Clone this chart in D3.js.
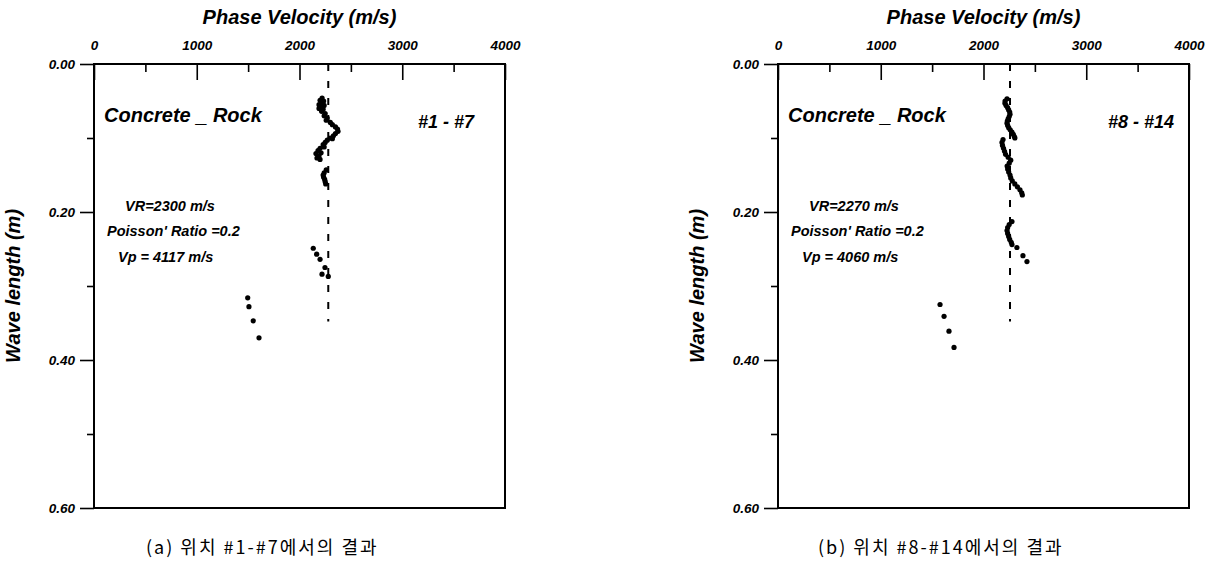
<!DOCTYPE html>
<html>
<head>
<meta charset="utf-8">
<script src="https://cdn.jsdelivr.net/npm/d3@7"></script>
<style>
  html, body { margin: 0; padding: 0; background: #fff; }
  svg text { font-family: "Liberation Sans", Arial, sans-serif; }
</style>
</head>
<body>
<svg id="chart" width="1215" height="567"></svg>
<script>
// axis ticks
const velTicks = [0, 1000, 2000, 3000, 4000];
const velMinor = [500, 1500, 2500, 3500];
const wlTicks = [0.00, 0.20, 0.40, 0.60];
const wlMinor = [0.10, 0.30, 0.50];

// panel (a) #1 - #7 : [phase velocity, wave length]
const aPoints = [
  [2220, 0.046], [2200, 0.049], [2235, 0.050], [2215, 0.052], [2190, 0.055],
  [2240, 0.056], [2210, 0.058], [2190, 0.060], [2230, 0.061], [2215, 0.064],
  [2250, 0.067], [2240, 0.070], [2270, 0.073], [2260, 0.076], [2300, 0.079],
  [2320, 0.082], [2350, 0.085], [2370, 0.088], [2375, 0.091], [2350, 0.094],
  [2330, 0.097], [2300, 0.100], [2320, 0.101], [2270, 0.103], [2250, 0.106],
  [2230, 0.109], [2240, 0.112], [2200, 0.114], [2180, 0.117], [2210, 0.120],
  [2160, 0.121], [2190, 0.124], [2170, 0.127], [2200, 0.129],
  [2260, 0.143], [2240, 0.147], [2230, 0.150], [2235, 0.153], [2245, 0.156],
  [2250, 0.159], [2255, 0.162],
  [2134, 0.249], [2167, 0.257], [2200, 0.264], [2248, 0.275], [2219, 0.284],
  [2280, 0.287],
  [1496, 0.316], [1508, 0.328], [1550, 0.347], [1606, 0.370]
];
const aVR = 2280;
const aDashEnd = 0.348;

// panel (b) #8 - #14
const bPoints = [
  [2229, 0.047], [2210, 0.050], [2209, 0.053], [2220, 0.056], [2235, 0.059],
  [2245, 0.062], [2255, 0.065], [2258, 0.068], [2250, 0.071], [2240, 0.074],
  [2232, 0.077], [2229, 0.080], [2235, 0.083], [2245, 0.086], [2260, 0.089],
  [2277, 0.092], [2290, 0.095], [2300, 0.098], [2306, 0.100],
  [2190, 0.102], [2180, 0.106], [2185, 0.110], [2195, 0.114], [2205, 0.118],
  [2215, 0.122], [2240, 0.126], [2265, 0.130], [2250, 0.134], [2230, 0.138],
  [2235, 0.142], [2245, 0.146], [2258, 0.150], [2265, 0.154], [2280, 0.158],
  [2305, 0.162], [2330, 0.166], [2355, 0.170], [2372, 0.174], [2378, 0.177],
  [2277, 0.213], [2250, 0.217], [2235, 0.221], [2229, 0.225], [2235, 0.229],
  [2245, 0.233], [2255, 0.237], [2270, 0.241], [2277, 0.244],
  [2325, 0.248], [2384, 0.259], [2423, 0.267],
  [1577, 0.325], [1616, 0.341], [1664, 0.361], [1713, 0.383]
];
const bVR = 2258;
const bDashEnd = 0.348;

const panels = [
  {left: 94, points: aPoints, vr: aVR, dashEnd: aDashEnd, tag: "#1 - #7", tagDx: 324,
   notes: ["VR=2300 m/s", "Poisson' Ratio =0.2", "Vp = 4117 m/s"],
   caption: "(a) 위치 #1-#7에서의 결과", capX: 146},
  {left: 778, points: bPoints, vr: bVR, dashEnd: bDashEnd, tag: "#8 - #14", tagDx: 330,
   notes: ["VR=2270 m/s", "Poisson' Ratio =0.2", "Vp = 4060 m/s"],
   caption: "(b) 위치 #8-#14에서의 결과", capX: 818}
];

const plotTop = 64, plotH = 444, plotW = 411;
const svg = d3.select("#chart");

panels.forEach(function(p) {
  const x = d3.scaleLinear().domain([0, 4000]).range([p.left, p.left + plotW]);
  const y = d3.scaleLinear().domain([0, 0.6]).range([plotTop, plotTop + plotH]);
  const g = svg.append("g");

  // top axis, ticks pointing into the plot
  g.append("g")
      .attr("transform", "translate(0," + plotTop + ")")
      .call(d3.axisTop(x).tickValues(velTicks).tickSize(-16).tickPadding(14)
        .tickFormat(d3.format("d")));
  g.append("g")
      .attr("transform", "translate(0," + plotTop + ")")
      .call(d3.axisTop(x).tickValues(velMinor).tickSize(-8).tickFormat(""));

  // left axis, ticks pointing out
  g.append("g")
      .attr("transform", "translate(" + p.left + ",0)")
      .call(d3.axisLeft(y).tickValues(wlTicks).tickSize(14).tickPadding(5)
        .tickFormat(d3.format(".2f")));
  g.append("g")
      .attr("transform", "translate(" + p.left + ",0)")
      .call(d3.axisLeft(y).tickValues(wlMinor).tickSize(7).tickFormat(""));

  g.selectAll(".domain").remove();
  g.selectAll(".tick line").attr("stroke", "#000").attr("stroke-width", 1.6);
  g.selectAll(".tick text")
      .attr("fill", "#000")
      .style("font-size", "13.5px")
      .style("font-weight", "bold")
      .style("font-style", "italic");

  // frame
  g.append("rect")
      .attr("x", x(0)).attr("y", y(0))
      .attr("width", x(4000) - x(0)).attr("height", y(0.6) - y(0))
      .attr("fill", "none").attr("stroke", "#000").attr("stroke-width", 2);

  // axis titles
  g.append("text")
      .attr("x", (x(0) + x(4000)) / 2).attr("y", 24)
      .attr("text-anchor", "middle")
      .style("font-size", "20px").style("font-weight", "bold").style("font-style", "italic")
      .text("Phase Velocity (m/s)");
  g.append("text")
      .attr("transform", "translate(" + (p.left - 74) + "," + ((y(0) + y(0.6)) / 2) + ") rotate(-90)")
      .attr("text-anchor", "middle")
      .style("font-size", "20px").style("font-weight", "bold").style("font-style", "italic")
      .text("Wave length (m)");

  // VR line
  g.append("line")
      .attr("x1", x(p.vr)).attr("x2", x(p.vr))
      .attr("y1", y(0)).attr("y2", y(p.dashEnd))
      .attr("stroke", "#000").attr("stroke-width", 2)
      .attr("stroke-dasharray", "7,10");

  // measured points
  g.selectAll("circle.pt")
      .data(p.points)
      .join("circle")
      .attr("class", "pt")
      .attr("cx", function(d) { return x(d[0]); })
      .attr("cy", function(d) { return y(d[1]); })
      .attr("r", 2.6)
      .attr("fill", "#000");

  // labels
  g.append("text")
      .attr("x", p.left + 10).attr("y", 122)
      .style("font-size", "20px").style("font-weight", "bold").style("font-style", "italic")
      .text("Concrete _ Rock");
  g.append("text")
      .attr("x", p.left + p.tagDx).attr("y", 128)
      .style("font-size", "18px").style("font-weight", "bold").style("font-style", "italic")
      .text(p.tag);

  const noteX = [31, 13, 24];
  const noteY = [211, 236, 262];
  p.notes.forEach(function(t, i) {
    g.append("text")
        .attr("x", p.left + noteX[i]).attr("y", noteY[i])
        .style("font-size", "14.5px").style("font-weight", "bold").style("font-style", "italic")
        .text(t);
  });

  // caption
  g.append("text")
      .attr("x", p.capX).attr("y", 554)
      .style("font-family", "'Noto Sans CJK KR', sans-serif")
      .style("font-size", "18px")
      .style("letter-spacing", "2px")
      .text(p.caption);
});
</script>
</body>
</html>
